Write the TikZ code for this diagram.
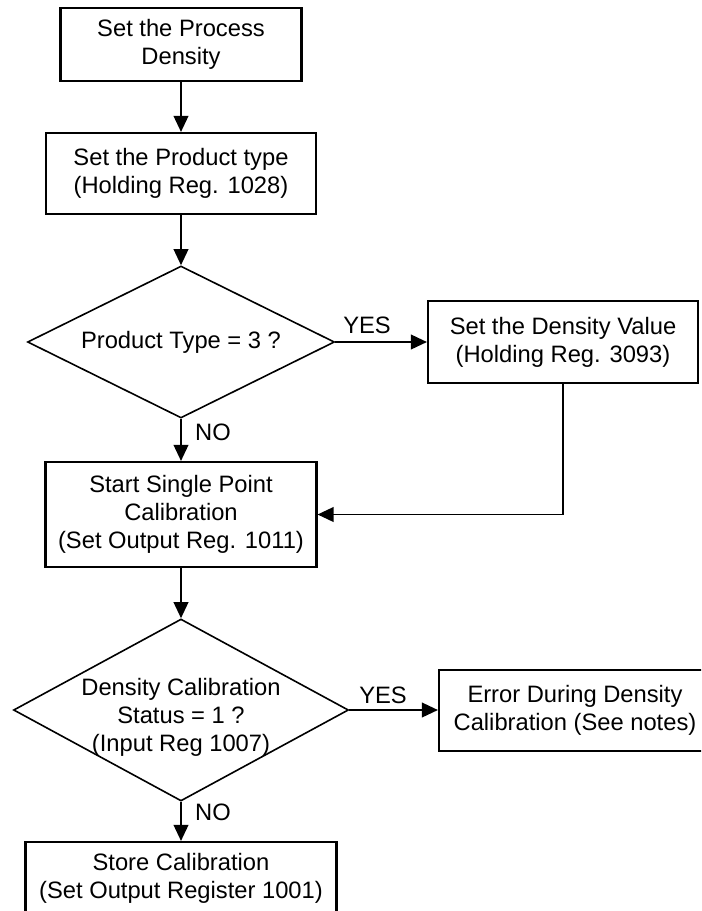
\documentclass[tikz,border=0pt]{standalone}
\usepackage{fontspec}
\setmainfont{Liberation Sans}
\usetikzlibrary{shapes.geometric, arrows.meta}

\tikzset{
    stepbox/.style={draw, line width=1.6pt, rectangle, align=center, inner sep=0pt},
    decision/.style={draw, line width=1.2pt, diamond, align=center, inner sep=0pt},
    flowline/.style={line width=1.3pt},
    answer/.style={inner sep=0pt}
}

\begin{document}
\begin{tikzpicture}[x=0.75pt, y=-0.75pt, >={Triangle[length=12pt, width=11pt]},
                    font=\fontsize{17.8pt}{21pt}\selectfont]
        \useasboundingbox (0,0) rectangle (701,911);
        \fill[white] (0,0) rectangle (701,911);
        \begin{scope}
        \clip (0,0) rectangle (701,911);
        \def\xC{181}

        % ===== main column =====
        \node[stepbox, minimum width=180.75pt, minimum height=54.75pt] (setdens) at (\xC, 44.5)
            {Set the Process\\Density};
        \node[stepbox, minimum width=202.5pt, minimum height=60.75pt] (settype) at (\xC, 173.5)
            {Set the Product type\\(Holding Reg. 1028)};
        \node[decision, minimum width=230.25pt, minimum height=114pt, aspect=2] (istype) at (\xC, 342)
            {Product Type = 3 ?};
        \node[stepbox, minimum width=203.25pt, minimum height=78.75pt] (startcal) at (\xC, 514.5)
            {Start Single Point\\Calibration\\(Set Output Reg. 1011)};
        \node[decision, minimum width=251.25pt, minimum height=136.5pt, aspect=1.84] (isstatus) at (\xC, 710) {};
        \node[align=center, inner sep=0pt] (statustext) at (\xC, 717)
            {Density Calibration\\Status = 1 ?\\(Input Reg 1007)};
        \node[stepbox, minimum width=233.25pt, minimum height=54pt] (storecal) at (\xC, 878)
            {Store Calibration\\(Set Output Register 1001)};

        % ===== side branches =====
        \node[stepbox, minimum width=202.5pt, minimum height=61.5pt] (densval) at (563, 342)
            {Set the Density Value\\(Holding Reg. 3093)};
        \node[stepbox, minimum width=204pt, minimum height=60.75pt] (calerr) at (575, 710.5)
            {Error During Density\\Calibration (See notes)};

        % ===== YES / NO =====
        \node[answer] (yestype) at (367, 325) {YES};
        \node[answer] (notype) at (213, 432) {NO};
        \node[answer] (yesstatus) at (383, 695) {YES};
        \node[answer] (nostatus) at (213, 812) {NO};

        % ===== connectors =====
        \draw[->, flowline] (setdens) -- (settype);
        \draw[->, flowline] (settype) -- (istype);
        \draw[->, flowline] (istype) -- (densval);
        \draw[->, flowline] (istype) -- (startcal);
        \draw[->, flowline] (densval.south) |- (startcal.east);
        \draw[->, flowline] (startcal) -- (isstatus);
        \draw[->, flowline] (isstatus.east) -- (isstatus.east -| calerr.west);
        \draw[->, flowline] (isstatus) -- (storecal);
        \end{scope}
    \end{tikzpicture}
\end{document}
